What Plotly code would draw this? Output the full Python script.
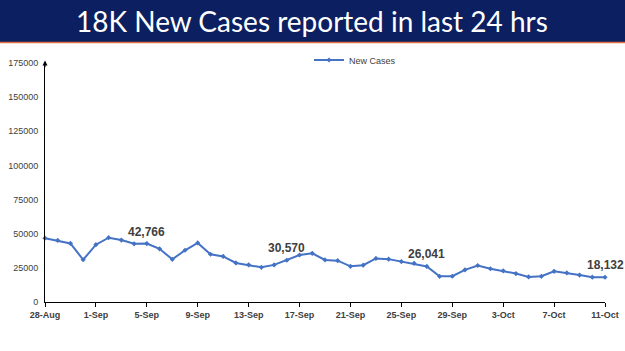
import plotly.graph_objects as go

dates = ["28-Aug", "29-Aug", "30-Aug", "31-Aug", "1-Sep", "2-Sep", "3-Sep", "4-Sep", "5-Sep",
         "6-Sep", "7-Sep", "8-Sep", "9-Sep", "10-Sep", "11-Sep", "12-Sep", "13-Sep", "14-Sep",
         "15-Sep", "16-Sep", "17-Sep", "18-Sep", "19-Sep", "20-Sep", "21-Sep", "22-Sep", "23-Sep",
         "24-Sep", "25-Sep", "26-Sep", "27-Sep", "28-Sep", "29-Sep", "30-Sep", "1-Oct", "2-Oct",
         "3-Oct", "4-Oct", "5-Oct", "6-Oct", "7-Oct", "8-Oct", "9-Oct", "10-Oct", "11-Oct"]
new_cases = [46759, 45083, 42909, 30941, 41965, 47092, 45352, 42618, 42766,
             38948, 31222, 37875, 43263, 34973, 33376, 28591, 27254, 25404,
             27176, 30570, 34403, 35662, 30773, 30256, 26115, 26964, 31923,
             31382, 29616, 28326, 26041, 18795, 18870, 23529, 26727, 24354,
             22842, 20799, 18346, 18833, 22431, 21257, 19740, 18166, 18132]
tick_labels = ["28-Aug", "1-Sep", "5-Sep", "9-Sep", "13-Sep", "17-Sep", "21-Sep", "25-Sep",
               "29-Sep", "3-Oct", "7-Oct", "11-Oct"]
labelled = ["5-Sep", "16-Sep", "27-Sep", "11-Oct"]
title_text = "18K New Cases reported in last 24 hrs"

fig = go.Figure()
fig.add_trace(go.Scatter(
    x=dates, y=new_cases, mode="lines+markers", name="New Cases",
    line=dict(color="#4472C4", width=2),
    marker=dict(size=4, color="#4472C4", symbol="diamond"),
    cliponaxis=False,
))

for d in labelled:
    v = new_cases[dates.index(d)]
    fig.add_annotation(x=d, y=v, text=f"<b>{v:,}</b>", showarrow=False, yshift=12,
                       font=dict(size=12, color="#404040", family="Liberation Sans"))

PW, PH = 560, 239
# banner
fig.add_shape(type="rect", xref="paper", yref="paper", x0=-45 / PW, x1=1 + 20 / PW,
              y0=1 + 21 / PH, y1=1 + 63 / PH, fillcolor="#0c1f60", line=dict(width=0), layer="below")
fig.add_shape(type="line", xref="paper", yref="paper", x0=-45 / PW, x1=1 + 20 / PW,
              y0=1 + 20.5 / PH, y1=1 + 20.5 / PH, line=dict(color="#e07040", width=1.5))
fig.add_annotation(xref="paper", yref="paper", x=(312 - 45) / PW, y=1 + 42 / PH,
                   text=title_text, showarrow=False, xanchor="center", yanchor="middle",
                   font=dict(size=28, color="white", family="Lato"))
# axis arrow
fig.add_annotation(xref="paper", yref="paper", x=0, y=1.01, ax=0, ay=8, axref="pixel", ayref="pixel",
                   showarrow=True, arrowhead=2, arrowsize=1, arrowwidth=1, arrowcolor="black", text="")

fig.update_layout(
    width=625, height=351,
    margin=dict(l=45, r=20, t=63, b=49),
    plot_bgcolor="white", paper_bgcolor="white",
    showlegend=True,
    legend=dict(x=(355 - 45) / PW, y=1 + 3 / PH, xanchor="center", yanchor="middle",
                font=dict(size=9, color="#404040", family="Liberation Sans"),
                bgcolor="rgba(0,0,0,0)", itemwidth=30),
    xaxis=dict(type="category", range=[0, len(dates) - 1], tickmode="array", automargin=False,
               tickvals=tick_labels, ticktext=[f"<b>{t}</b>" for t in tick_labels],
               showline=True, linecolor="black", linewidth=1, ticks="outside", ticklen=4,
               tickcolor="black", showgrid=False, zeroline=False,
               tickfont=dict(size=9, color="#404040", family="Liberation Sans")),
    yaxis=dict(range=[0, 175000], dtick=25000, showline=True, linecolor="black", linewidth=1,
               showgrid=False, zeroline=False, ticks="", tickformat="d", automargin=False,
               ticklabelstandoff=4,
               tickfont=dict(size=9, color="#404040", family="Liberation Sans")),
)

fig.write_html("out.html")
